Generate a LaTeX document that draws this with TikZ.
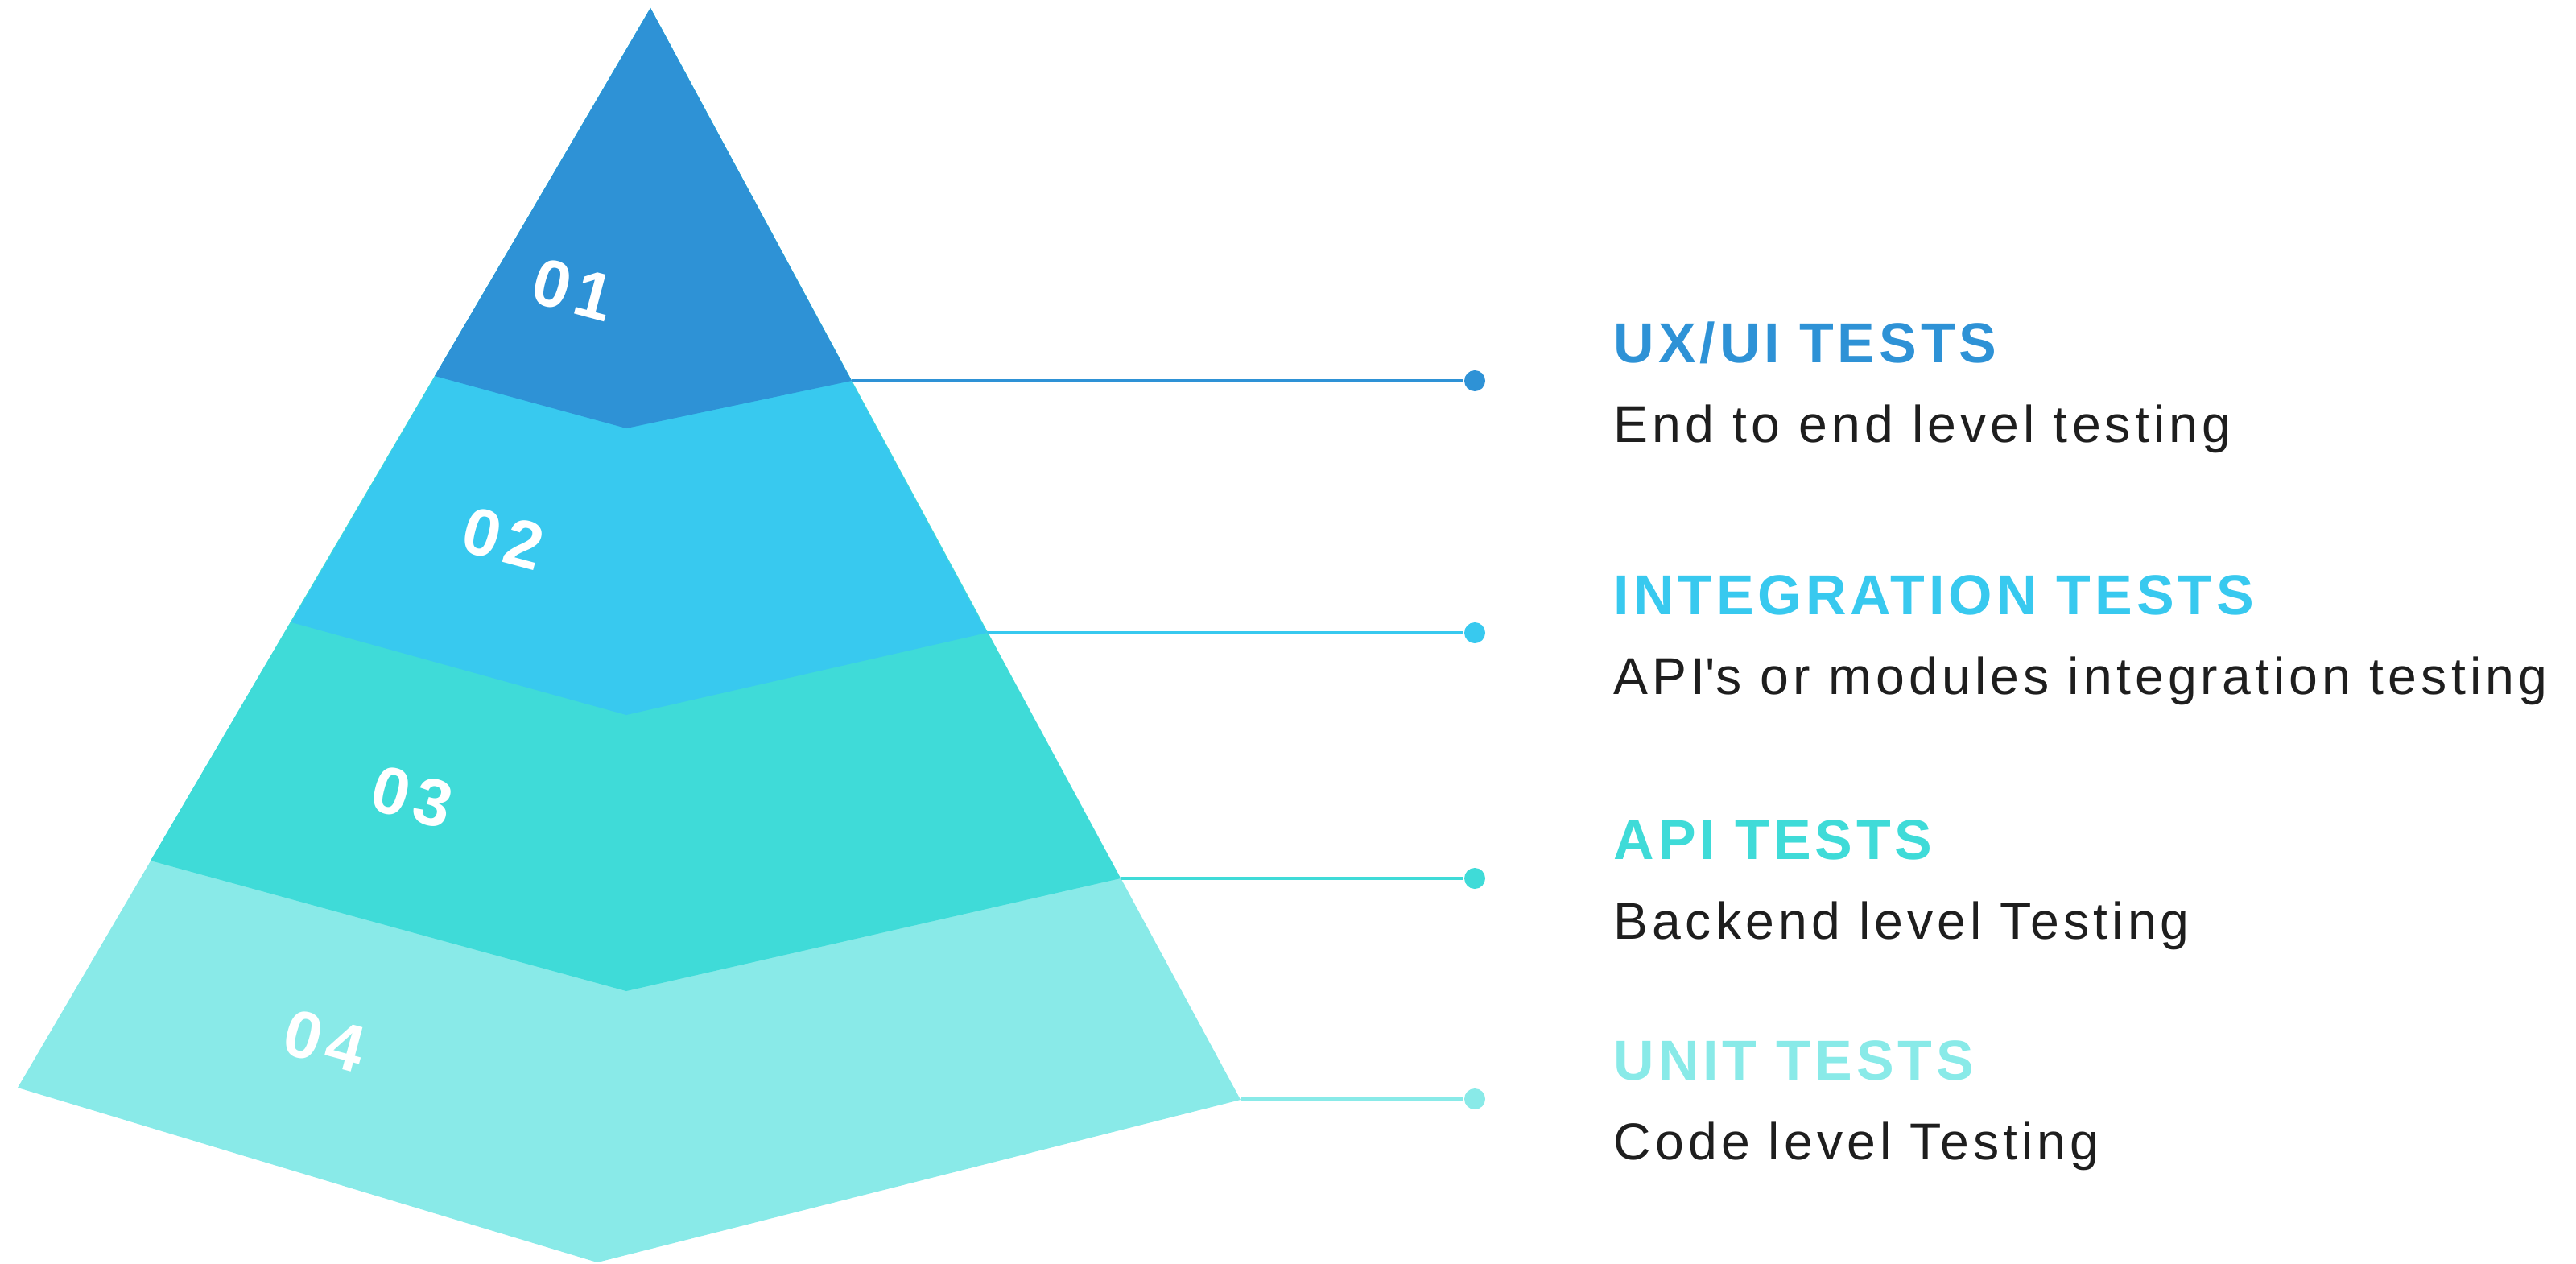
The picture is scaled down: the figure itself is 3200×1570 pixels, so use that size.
\documentclass[tikz,border=0pt]{standalone}
\usepackage{fontspec}
\setmainfont{Liberation Sans}
\newfontfamily\headfont[LetterSpace=7]{Liberation Sans}
\newfontfamily\subfont[LetterSpace=8]{Liberation Sans}
\newfontfamily\numfont[LetterSpace=10]{Liberation Sans}
\definecolor{layerA}{HTML}{2E92D6}
\definecolor{layerB}{HTML}{38C9EF}
\definecolor{layerC}{HTML}{3FDBD8}
\definecolor{layerD}{HTML}{89EAE8}
\definecolor{inkdark}{HTML}{1E1E1E}

\begin{document}
\begin{tikzpicture}[x=0.01cm, y=-0.01cm,
    num/.style={text=white, font=\numfont\bfseries\fontsize{23.5}{24}\selectfont, rotate=-15},
    head/.style={anchor=base west, inner sep=0pt, font=\headfont\bfseries\fontsize{19.9}{20}\selectfont},
    sub/.style={anchor=base west, inner sep=0pt, text=inkdark, font=\subfont\fontsize{18.3}{19}\selectfont},
    link/.style={line width=1.3pt},
    dot/.style={circle, inner sep=0pt, minimum size=0.26cm}]
    \useasboundingbox (0,0) rectangle (3200,1570);

    % corners of the pyramid
    \coordinate (apex) at (808,10);
    \coordinate (l1) at (540,467);  \coordinate (n1) at (778,532);  \coordinate (r1) at (1058,473);
    \coordinate (l2) at (362,773);  \coordinate (n2) at (778,888);  \coordinate (r2) at (1226,786);
    \coordinate (l3) at (187,1069); \coordinate (n3) at (778,1231); \coordinate (r3) at (1392,1091);
    \coordinate (l4) at (22,1351);  \coordinate (n4) at (742,1568); \coordinate (r4) at (1541,1366);

    % layers, bottom one first
    \fill[layerD] (apex) -- (r4) -- (n4) -- (l4) -- cycle;
    \fill[layerC] (apex) -- (r3) -- (n3) -- (l3) -- cycle;
    \fill[layerB] (apex) -- (r2) -- (n2) -- (l2) -- cycle;
    \fill[layerA] (apex) -- (r1) -- (n1) -- (l1) -- cycle;

    \node[num] (k1) at (712,360) {01};
    \node[num] (k2) at (625,669) {02};
    \node[num] (k3) at (512,990) {03};
    \node[num] (k4) at (403,1293) {04};

    % connectors
    \node[dot, fill=layerA] (d1) at (1832,473) {};
    \node[dot, fill=layerB] (d2) at (1832,786) {};
    \node[dot, fill=layerC] (d3) at (1832,1091) {};
    \node[dot, fill=layerD] (d4) at (1832,1365) {};
    \draw[link, layerA] (r1) -- (d1);
    \draw[link, layerB] (r2) -- (d2);
    \draw[link, layerC] (r3) -- (d3);
    \draw[link, layerD] (r4 |- d4) -- (d4);

    % labels
    \node[head, text=layerA] (t1) at (2004,450) {UX/UI TESTS};
    \node[sub] (s1) at (2004,549) {End to end level testing};
    \node[head, text=layerB] (t2) at (2004,763) {INTEGRATION TESTS};
    \node[sub] (s2) at (2004,862) {API\textquotesingle s or modules integration testing};
    \node[head, text=layerC] (t3) at (2004,1067) {API TESTS};
    \node[sub] (s3) at (2004,1166) {Backend level Testing};
    \node[head, text=layerD] (t4) at (2004,1341) {UNIT TESTS};
    \node[sub] (s4) at (2004,1440) {Code level Testing};
\end{tikzpicture}
\end{document}
